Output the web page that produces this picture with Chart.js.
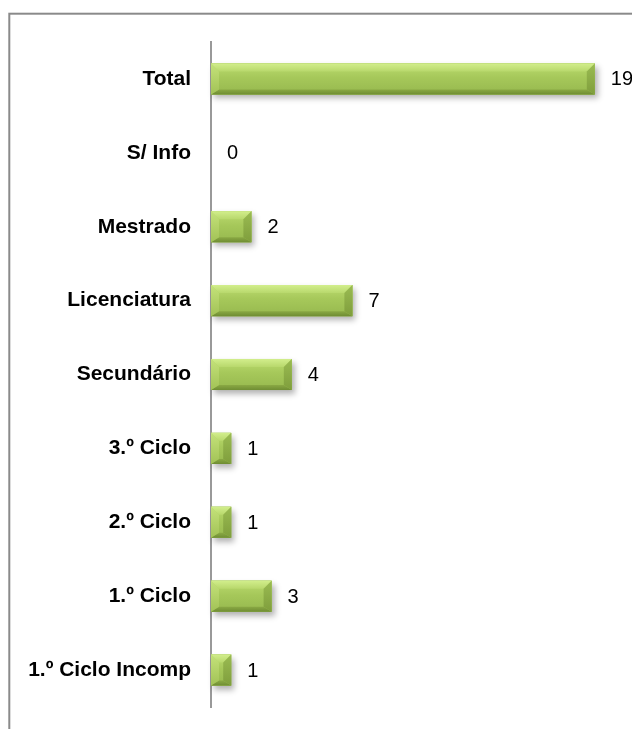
<!DOCTYPE html>
<html>
<head>
<meta charset="utf-8">
<script src="https://cdn.jsdelivr.net/npm/chart.js@4/dist/chart.umd.min.js"></script>
<style>
html,body{margin:0;padding:0;background:#fff;}
canvas{display:block;}
</style>
</head>
<body>
<canvas id="c" width="632" height="729"></canvas>
<script>
const categories = ["Total","S/ Info","Mestrado","Licenciatura","Secundário","3.º Ciclo","2.º Ciclo","1.º Ciclo","1.º Ciclo Incomp"];
const values = [19,0,2,7,4,1,1,3,1];
const axisMin = 0;
const axisMax = 20;

const FONT = "'Liberation Sans', Arial, sans-serif";

const framePlugin = {
  id: 'frame',
  beforeDraw(chart){
    const ctx = chart.ctx;
    ctx.save();
    ctx.fillStyle = '#fff';
    ctx.fillRect(0,0,chart.width,chart.height);
    ctx.strokeStyle = '#8a8a8a';
    ctx.lineWidth = 2;
    ctx.strokeRect(9.3, 13.7, 3000, 3000);
    ctx.restore();
  }
};

function barRect(el){
  const x0 = Math.min(el.base, el.x), x1 = Math.max(el.base, el.x);
  const y0 = el.y - el.height/2, y1 = el.y + el.height/2;
  return {x0,x1,y0,y1};
}

const bevelPlugin = {
  id: 'bevel',
  beforeDatasetsDraw(chart){
    const ctx = chart.ctx;
    const meta = chart.getDatasetMeta(0);
    ctx.save();
    meta.data.forEach(el => {
      const r = barRect(el);
      if (r.x1 - r.x0 < 1) return;
      ctx.shadowColor = 'rgba(0,0,0,0.3)';
      ctx.shadowBlur = 6;
      ctx.shadowOffsetX = 3;
      ctx.shadowOffsetY = 4;
      ctx.fillStyle = '#9bbb59';
      ctx.fillRect(r.x0, r.y0, r.x1-r.x0, r.y1-r.y0);
    });
    ctx.restore();
  },
  afterDatasetsDraw(chart){
    const ctx = chart.ctx;
    const meta = chart.getDatasetMeta(0);
    ctx.save();
    meta.data.forEach((el,i) => {
      const r = barRect(el);
      const w = r.x1 - r.x0, h = r.y1 - r.y0;
      if (w < 1) return;
      const bx = Math.min(8, w/2), byT = Math.min(8, h/2), byB = Math.min(5, h/2);
      let g = ctx.createLinearGradient(0, r.y0, 0, r.y1);
      g.addColorStop(0, '#bcdc70');
      g.addColorStop(0.45, '#a6c85a');
      g.addColorStop(1, '#96b84e');
      ctx.fillStyle = g;
      ctx.fillRect(r.x0, r.y0, w, h);
      const poly = (pts, fill) => {
        ctx.beginPath();
        ctx.moveTo(pts[0][0], pts[0][1]);
        for (let k=1;k<pts.length;k++) ctx.lineTo(pts[k][0], pts[k][1]);
        ctx.closePath();
        ctx.fillStyle = fill;
        ctx.fill();
      };
      g = ctx.createLinearGradient(0, r.y0, 0, r.y0+byT);
      g.addColorStop(0, '#d2ee8c');
      g.addColorStop(1, '#b8d86c');
      poly([[r.x0,r.y0],[r.x1,r.y0],[r.x1-bx,r.y0+byT],[r.x0+bx,r.y0+byT]], g);
      g = ctx.createLinearGradient(0, r.y1-byB, 0, r.y1);
      g.addColorStop(0, '#8aa944');
      g.addColorStop(1, '#6f8d33');
      poly([[r.x0,r.y1],[r.x1,r.y1],[r.x1-bx,r.y1-byB],[r.x0+bx,r.y1-byB]], g);
      g = ctx.createLinearGradient(0, r.y0, 0, r.y1);
      g.addColorStop(0, '#c4e27a');
      g.addColorStop(1, '#a2c256');
      poly([[r.x0,r.y0],[r.x0+bx,r.y0+byT],[r.x0+bx,r.y1-byB],[r.x0,r.y1]], g);
      g = ctx.createLinearGradient(0, r.y0, 0, r.y1);
      g.addColorStop(0, '#9abb52');
      g.addColorStop(1, '#7f9e3c');
      poly([[r.x1,r.y0],[r.x1-bx,r.y0+byT],[r.x1-bx,r.y1-byB],[r.x1,r.y1]], g);
    });
    ctx.fillStyle = '#000';
    ctx.font = '20px ' + FONT;
    ctx.textAlign = 'left';
    ctx.textBaseline = 'middle';
    meta.data.forEach((el,i) => {
      ctx.fillText(String(values[i]), el.x + 16, el.y + 1);
    });
    ctx.restore();
  }
};

new Chart(document.getElementById('c'), {
  type: 'bar',
  data: {
    labels: categories,
    datasets: [{
      data: values,
      backgroundColor: '#9bbb59',
      borderWidth: 0,
      barPercentage: 0.42,
      categoryPercentage: 1.0
    }]
  },
  options: {
    indexAxis: 'y',
    responsive: false,
    animation: false,
    devicePixelRatio: 1,
    layout: { padding: { left: 0, right: 17, top: 42, bottom: 22 } },
    plugins: { legend: { display: false }, tooltip: { enabled: false } },
    scales: {
      x: { display: false, min: axisMin, max: axisMax },
      y: {
        afterFit(scale){ scale.width = 211; scale.paddingTop = 0; scale.paddingBottom = 0; },
        grid: { display: false, drawTicks: false },
        border: { display: true, color: '#999999', width: 2 },
        ticks: {
          padding: 20,
          color: '#000',
          font: { family: FONT, size: 21, weight: 'bold' }
        }
      }
    }
  },
  plugins: [framePlugin, bevelPlugin]
});
</script>
</body>
</html>
